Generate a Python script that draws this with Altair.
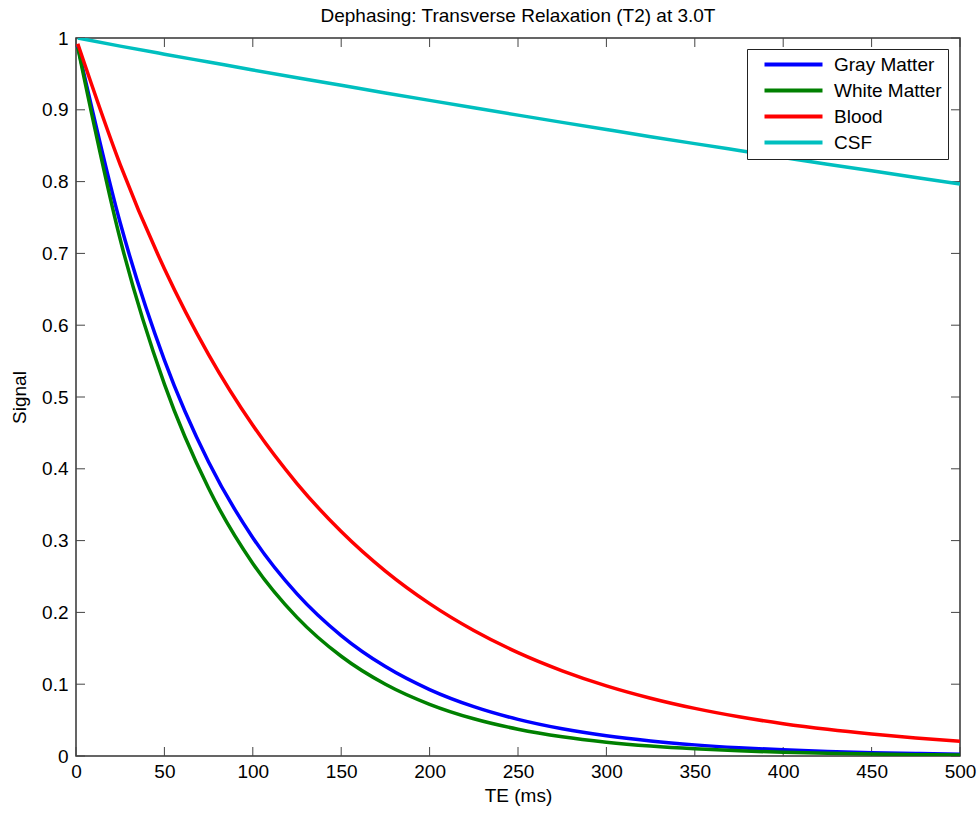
import altair as alt
import pandas as pd

# ---- data ----
te = [1, 25, 50, 75, 100, 125, 150, 175, 200, 225, 250, 275, 300, 325, 350, 375, 400, 425, 450, 475, 500]
gray_matter = [0.988, 0.7426, 0.5515, 0.4095, 0.3041, 0.2258, 0.1677, 0.1245, 0.0925, 0.0687, 0.0510,
               0.0379, 0.0281, 0.0209, 0.0155, 0.0115, 0.0086, 0.0064, 0.0047, 0.0035, 0.0026]
white_matter = [0.987, 0.7197, 0.5179, 0.3728, 0.2682, 0.1931, 0.1389, 0.0999, 0.0720, 0.0518, 0.0373,
                0.0268, 0.0193, 0.0139, 0.0100, 0.0072, 0.0052, 0.0037, 0.0027, 0.0019, 0.0014]
blood = [0.992, 0.8238, 0.6787, 0.5591, 0.4606, 0.3795, 0.3126, 0.2575, 0.2122, 0.1748, 0.1440,
         0.1187, 0.0977, 0.0805, 0.0663, 0.0546, 0.0450, 0.0371, 0.0306, 0.0252, 0.0207]
csf = [1.0, 0.9887, 0.9775, 0.9665, 0.9555, 0.9447, 0.9341, 0.9235, 0.9131, 0.9028, 0.8926,
       0.8825, 0.8725, 0.8626, 0.8529, 0.8433, 0.8337, 0.8243, 0.8150, 0.8058, 0.7967]

series_names = ["Gray Matter", "White Matter", "Blood", "CSF"]
series_colors = ["#0000FF", "#008000", "#FF0000", "#00BFBF"]
x_ticks = [0, 50, 100, 150, 200, 250, 300, 350, 400, 450, 500]
y_ticks = [0, 0.1, 0.2, 0.3, 0.4, 0.5, 0.6, 0.7, 0.8, 0.9, 1]

rows = []
for name, vals in zip(series_names, [gray_matter, white_matter, blood, csf]):
    for t, v in zip(te, vals):
        rows.append({"TE": t, "Signal": v, "Tissue": name})
df = pd.DataFrame(rows)

W, H = 884, 718
FONT = "Liberation Sans"
FS = 19
TICK = 9

x_scale = alt.Scale(domain=[0, 500], nice=False, zero=False)
y_scale = alt.Scale(domain=[0, 1], nice=False)

x_axis = alt.Axis(title="TE (ms)", values=x_ticks, labelFlush=False, labelOverlap=False,
                  labelPadding=6, titlePadding=5)
y_axis = alt.Axis(title="Signal", values=y_ticks, format=".1~f", labelPadding=8, titlePadding=12)

lines = alt.Chart(df).mark_line(strokeWidth=3.5, interpolate="monotone", clip=True).encode(
    x=alt.X("TE:Q", scale=x_scale, axis=x_axis, title="TE (ms)"),
    y=alt.Y("Signal:Q", scale=y_scale, axis=y_axis, title="Signal"),
    color=alt.Color("Tissue:N",
                    scale=alt.Scale(domain=series_names, range=series_colors),
                    legend=alt.Legend(title=None, orient="none", legendX=671, legendY=11,
                                      symbolType="M0.5,0H15", symbolSize=64, symbolStrokeWidth=4,
                                      labelOffset=62, labelFont=FONT, labelFontSize=FS,
                                      labelColor="black", padding=6, rowPadding=6,
                                      strokeColor="#222", fillColor="white")),
)

xt = pd.DataFrame({"TE": x_ticks})
yt = pd.DataFrame({"Signal": y_ticks})
tick_style = dict(color="#444", strokeWidth=1)

bottom_ticks = alt.Chart(xt).mark_rule(**tick_style).encode(
    x=alt.X("TE:Q", scale=x_scale, axis=x_axis, title="TE (ms)"),
    y=alt.value(H), y2=alt.value(H - TICK))
top_ticks = alt.Chart(xt).mark_rule(**tick_style).encode(
    x=alt.X("TE:Q", scale=x_scale, axis=x_axis, title="TE (ms)"),
    y=alt.value(0), y2=alt.value(TICK))
left_ticks = alt.Chart(yt).mark_rule(**tick_style).encode(
    y=alt.Y("Signal:Q", scale=y_scale, axis=y_axis, title="Signal"),
    x=alt.value(0), x2=alt.value(TICK))
right_ticks = alt.Chart(yt).mark_rule(**tick_style).encode(
    y=alt.Y("Signal:Q", scale=y_scale, axis=y_axis, title="Signal"),
    x=alt.value(W), x2=alt.value(W - TICK))

chart = alt.layer(bottom_ticks, top_ticks, left_ticks, right_ticks, lines).properties(
    width=W, height=H,
    title=alt.TitleParams("Dephasing: Transverse Relaxation (T2) at 3.0T", font=FONT, fontSize=FS,
                          fontWeight="normal", color="black", anchor="middle", frame="group",
                          offset=3),
    autosize=alt.AutoSizeParams(type="none"),
    padding={"left": 76, "top": 38, "right": 19, "bottom": 52},
).configure_axis(
    labelFont=FONT, titleFont=FONT, labelFontSize=FS, titleFontSize=FS,
    titleFontWeight="normal", labelColor="black", titleColor="black",
    grid=False, ticks=False, domain=False,
).configure_view(
    stroke="#333", strokeWidth=1.5,
)

chart.save("out.html", embed_options={"renderer": "svg", "actions": False})
